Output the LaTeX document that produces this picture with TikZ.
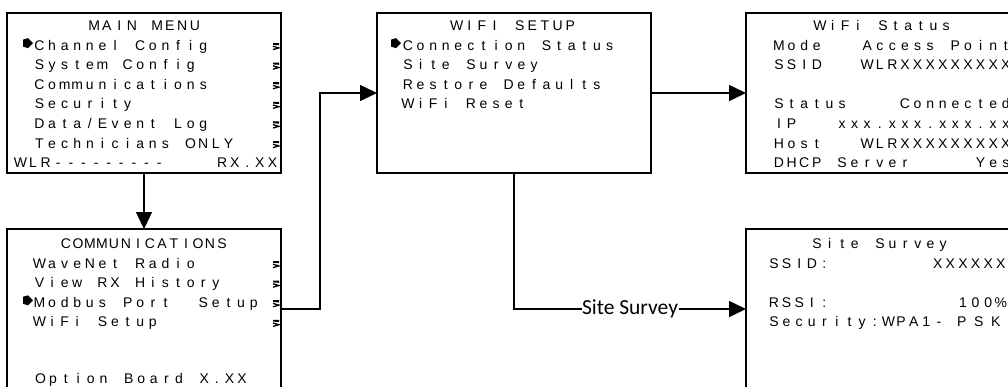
\documentclass[tikz,border=0pt]{standalone}
\usepackage{fontspec}
\setmainfont{Liberation Sans}
\newfontfamily\labelfont{Carlito}
\usetikzlibrary{arrows.meta}

% LCD-style text: every character sits in a fixed-width cell
\ExplSyntaxOn
\NewDocumentCommand\lcd{O{12.6pt}m}
  { \tl_map_inline:nn {#2} { \makebox[#1][c]{##1} } }
\ExplSyntaxOff

\tikzset{
  screen/.style={draw, line width=1.8pt, fill=white, minimum width=274pt,
    minimum height=160pt, inner sep=0pt, outer sep=0pt, anchor=north west},
  row/.style={anchor=base west, inner sep=0pt, font=\fontsize{14}{16}\selectfont},
  heading/.style={anchor=base, inner sep=0pt, font=\fontsize{14}{16}\selectfont},
  conn/.style={line width=1.5pt, -{Triangle[length=17pt,width=16pt]}},
  edgelabel/.style={fill=white, inner sep=0.5pt, font=\labelfont\fontsize{21.5}{24}\selectfont},
  cursor/.pic={\fill (-5,-3.5) -- (0,-5) -- (5,0) -- (0,5) -- (-5,3.5) -- cycle;},
  submark/.pic={
    \fill (-3,-3.6) -- (3,-3.6) -- (3,-1.4) -- (-3,-1.8) -- cycle;
    \draw[line width=1.3pt, line join=miter] (-3,-0.4) -- (2.8,1.3) -- (-3,3);
  }
}

\begin{document}
\begin{tikzpicture}[x=1pt,y=-1pt]
\useasboundingbox (0,0) rectangle (1008,386);
\fill[white] (0,0) rectangle (1008,386);
\clip (0,0) rectangle (1008,386);

% screens
\node[screen] (mainmenu)   at (7,13)    {};
\node[screen] (comm)       at (7,229)   {};
\node[screen] (wifisetup)  at (377,13)  {};
\node[screen] (wifistatus) at (746,13)  {};
\node[screen] (sitesurvey) at (746,229) {};

% MAIN MENU
\node[heading] (mm-t) at (144.5,30.5) {\lcd{MAIN~MENU}};
\node[row] (mm-1) at (33,50.1)  {\lcd{Channel~Config}};
\node[row] (mm-2) at (33,69.7)  {\lcd{System~Config}};
\node[row] (mm-3) at (33,89.3)  {\lcd{Communications}};
\node[row] (mm-4) at (33,108.9) {\lcd{Security}};
\node[row] (mm-5) at (33,128.5) {\lcd{Data/Event~Log}};
\node[row] (mm-6) at (33,148.1) {\lcd{Technicians~ONLY}};
\node[row] (mm-7) at (14,167.7) {\lcd{WLR---------~~~~RX.XX}};
\pic at (28,43.1) {cursor};
\foreach \y in {45.1,64.7,84.3,103.9,123.5,143.1} \pic at (276,\y+1.5) {submark};

% COMMUNICATIONS
\node[heading] (cm-t) at (144,248.5) {\lcd[12pt]{COMMUNICATIONS}};
\node[row] (cm-1) at (33,268.1) {\lcd{WaveNet~Radio}};
\node[row] (cm-2) at (33,287.7) {\lcd{View~RX~History}};
\node[row] (cm-3) at (33,307.3) {\lcd{Modbus~Port~~Setup}};
\node[row] (cm-4) at (33,326.9) {\lcd{WiFi~Setup}};
\node[row] (cm-7) at (34,383.2) {\lcd{Option~Board~X.XX}};
\pic at (28,300.3) {cursor};
\foreach \y in {263.1,282.7,302.3,321.9} \pic at (276,\y+1.5) {submark};

% WIFI SETUP
\node[heading] (ws-t) at (513.5,30.5) {\lcd{WIFI~SETUP}};
\node[row] (ws-1) at (401.5,50.1) {\lcd{Connection~Status}};
\node[row] (ws-2) at (401.5,69.7) {\lcd{Site~Survey}};
\node[row] (ws-3) at (401.5,89.3) {\lcd{Restore~Defaults}};
\node[row] (ws-4) at (401.5,108.9) {\lcd{WiFi~Reset}};
\pic at (396,43.1) {cursor};

% WiFi Status
\node[heading] (st-t) at (883,30.5) {\lcd{WiFi~Status}};
\node[row] (st-1) at (772.5,50.1)  {\lcd{Mode~~~Access~Point}};
\node[row] (st-2) at (772.5,69.7)  {\lcd{SSID~~~WLRXXXXXXXXXXX}};
\node[row] (st-4) at (772.5,108.9) {\lcd{Status~~~~Connected}};
\node[row] (st-5) at (772.5,128.5) {\lcd{IP~~~xxx.xxx.xxx.xxx}};
\node[row] (st-6) at (772.5,148.1) {\lcd{Host~~~WLRXXXXXXXXXXX}};
\node[row] (st-7) at (772.5,167.7) {\lcd{DHCP~Server~~~~~Yes}};

% Site Survey
\node[heading] (ss-t) at (880,248.5) {\lcd{Site~Survey}};
\node[row] (ss-1) at (767.5,268.1) {\lcd{SSID:~~~~~~~~XXXXXXXX}};
\node[row] (ss-3) at (767.5,307.3) {\lcd{RSSI:~~~~~~~~~~100\%}};
\node[row] (ss-4) at (767.5,326.9) {\lcd{Security:}};
\node[row] (ss-4a) at (882,326.9) {\lcd{WPA1-}};
\node[row] (ss-4b) at (953,326.9) {\lcd[17pt]{PSK}};

% navigation
\draw[conn] (mainmenu.south) -- (comm.north);
\draw[conn] (comm.east) -- ++(39,0) |- (wifisetup.west);
\draw[conn] (wifisetup.east) -- (wifistatus.west);
\draw[conn] (wifisetup.south) |- node[pos=0.75, edgelabel] (sslabel) {Site Survey} (sitesurvey.west);
\end{tikzpicture}
\end{document}
